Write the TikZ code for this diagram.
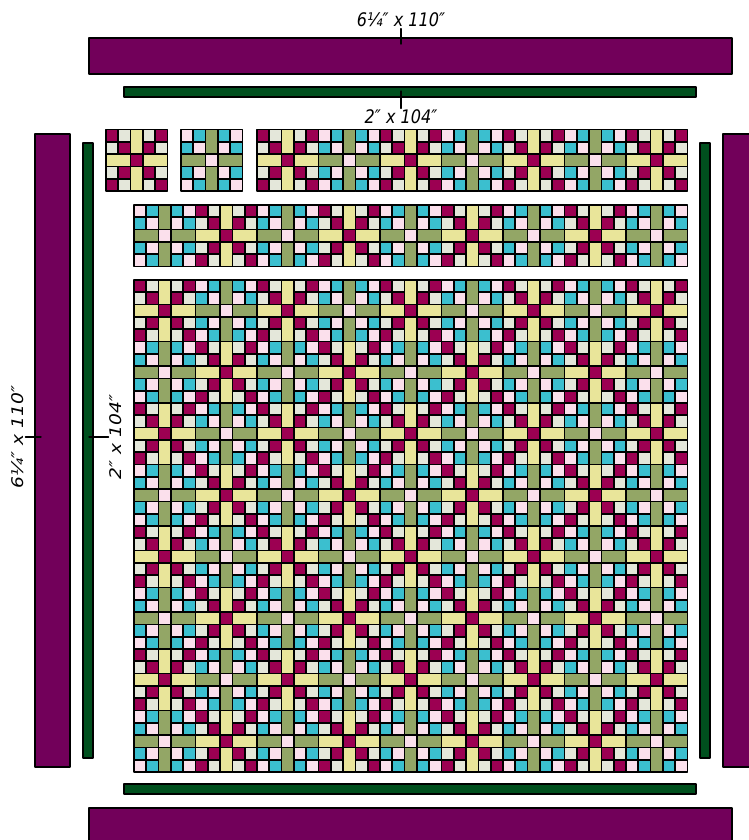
\documentclass[tikz,border=0pt]{standalone}
\usepackage{fontspec}
\setmainfont{DejaVu Sans}
\definecolor{plum}{HTML}{72005A}
\definecolor{pine}{HTML}{00501E}
\definecolor{berry}{HTML}{9C0052}
\definecolor{aqua}{HTML}{3BBFCF}
\definecolor{butter}{HTML}{E9E59A}
\definecolor{sage}{HTML}{93A666}
\definecolor{creamchk}{HTML}{E4E7DA}
\definecolor{pinkchk}{HTML}{FBE0EC}
\tikzset{
  cell/.style={draw=black,line width=1.25pt},
  border/.style={draw=black,line width=1.1pt},
  dimlabel/.style={font=\fontsize{14}{16}\selectfont\itshape,inner sep=1pt,xscale=0.86},
  pics/qblock/.style n args={3}{code={
    \foreach \r in {0,1,3,4}{
      \foreach \c in {0,1,3,4}{
        \pgfmathtruncatemacro\dg{(\r==\c)||(\r+\c==4)}
        \ifnum\dg=1 \def\cc{#1}\else\def\cc{#2}\fi
        \draw[cell,fill=\cc] (\c,\r) rectangle ++(1,1);
      }
    }
    \draw[cell,fill=#3] (2,0) rectangle (3,2);
    \draw[cell,fill=#3] (2,3) rectangle (3,5);
    \draw[cell,fill=#3] (0,2) rectangle (2,3);
    \draw[cell,fill=#3] (3,2) rectangle (5,3);
    \draw[cell,fill=#1] (2,2) rectangle (3,3);
  }}
}
\newcommand{\qblk}[3]{%
  \pgfmathtruncatemacro\qpar{mod(#3,2)}%
  \ifnum\qpar=0
    \pic[scale=12.3] at (#1,#2) {qblock={berry}{creamchk}{butter}};
  \else
    \pic[scale=12.3] at (#1,#2) {qblock={pinkchk}{aqua}{sage}};
  \fi}
\begin{document}
\begin{tikzpicture}[x=0.75pt,y=-0.75pt,line cap=round,line join=round]
\useasboundingbox (0,0) rectangle (749,840);
\draw[border,fill=plum] (89,38) rectangle (732,74);
\draw[border,fill=pine] (124,87) rectangle (696,97);
\draw[border,fill=plum] (35,134) rectangle (70,767);
\draw[border,fill=pine] (83,143) rectangle (93,758);
\draw[border,fill=pine] (700,143) rectangle (710,758);
\draw[border,fill=plum] (723,134) rectangle (755,767);
\draw[border,fill=pine] (124,784) rectangle (696,794);
\draw[border,fill=plum] (89,808) rectangle (732,845);
\qblk{106}{129.5}{0}
\qblk{181}{129.5}{1}
\foreach \j in {2,...,8}{
  \qblk{134+\j*61.5}{129.5}{\j}
}
\foreach \j in {0,...,8}{
  \qblk{134+\j*61.5}{205}{\j+1}
}
\foreach \i in {0,...,7}{
  \foreach \j in {0,...,8}{
    \qblk{134+\j*61.5}{280+\i*61.5}{\i+\j}
  }
}
\node[dimlabel] (lbltop) at (401,20) {6¼″ x 110″};
\node[dimlabel] (lbltopin) at (401,117) {2″ x 104″};
\node[dimlabel,rotate=90] (lblleft) at (18,437) {6¼″ x 110″};
\node[dimlabel,rotate=90] (lblleftin) at (116,437) {2″ x 104″};
\coordinate (tktop) at (401,44);
\coordinate (tktopin) at (401,91);
\coordinate (tkleft) at (41,437);
\coordinate (tkleftin) at (89,437);
\draw[line width=1pt] (lbltop.south) -- (tktop);
\draw[line width=1pt] (lbltopin.north) -- (tktopin);
\draw[line width=1pt] (lblleft.south) -- (tkleft);
\draw[line width=1pt] (lblleftin.north) -- (tkleftin);
\end{tikzpicture}
\end{document}
